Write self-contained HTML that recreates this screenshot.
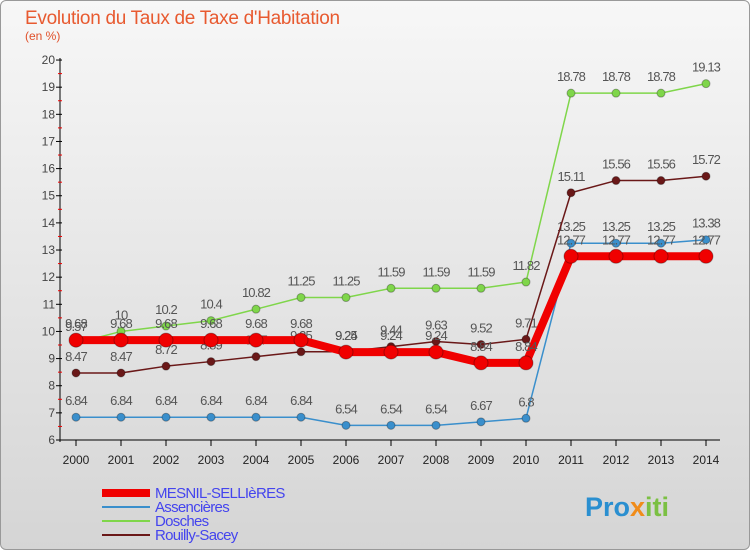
<!DOCTYPE html>
<html><head><meta charset="utf-8"><style>
body{margin:0;width:750px;height:550px;overflow:hidden;font-family:"Liberation Sans",sans-serif}
#bg{position:absolute;left:0;top:0;width:748px;height:548px;border:1px solid #999;border-radius:6px;background:linear-gradient(#f7f7f7,#d5d5d5)}
</style></head><body>
<div id="bg"></div>
<svg id="c" width="750" height="550" style="position:absolute;left:0;top:0">
<text x="25" y="24" font-size="19" fill="#e85a30" font-weight="300" letter-spacing="-0.3">Evolution du Taux de Taxe d'Habitation</text>
<text x="25" y="40" font-size="12" fill="#e0502a">(en %)</text>
<g id="axes"></g><g id="series"></g><g id="legend"></g>
<text x="585" y="516" font-size="27" font-weight="bold" fill="#2a8fd0">Pro<tspan fill="#f08c1a">x</tspan><tspan fill="#7bc043">iti</tspan></text>
</svg>
<script>
const years=[2000,2001,2002,2003,2004,2005,2006,2007,2008,2009,2010,2011,2012,2013,2014];
const mesnil=[9.68,9.68,9.68,9.68,9.68,9.68,9.24,9.24,9.24,8.84,8.84,12.77,12.77,12.77,12.77];
const assencieres=[6.84,6.84,6.84,6.84,6.84,6.84,6.54,6.54,6.54,6.67,6.8,13.25,13.25,13.25,13.38];
const dosches=[9.57,10,10.2,10.4,10.82,11.25,11.25,11.59,11.59,11.59,11.82,18.78,18.78,18.78,19.13];
const rouilly=[8.47,8.47,8.72,8.89,9.07,9.25,9.25,9.44,9.63,9.52,9.71,15.11,15.56,15.56,15.72];
const yTicks=[6,7,8,9,10,11,12,13,14,15,16,17,18,19,20];
const NS="http://www.w3.org/2000/svg";
const X=i=>76+i*45, Y=v=>440-(v-6)*27.14;
function mk(t,a,p){const e=document.createElementNS(NS,t);for(const k in a)e.setAttribute(k,a[k]);p.appendChild(e);return e;}
const ax=document.getElementById('axes');
let l=mk('line',{x1:60,y1:58,x2:60,y2:442,stroke:'#000'},ax);


l=mk('line',{x1:60,y1:440,x2:720,y2:440,stroke:'#000'},ax);


yTicks.forEach(v=>{mk('line',{x1:56,x2:62,y1:Y(v),y2:Y(v),stroke:'#000'},ax);
 if(v<20)mk('line',{x1:58,x2:62,y1:Y(v+0.5),y2:Y(v+0.5),stroke:'#e00'},ax);
 const t=mk('text',{x:55,y:Y(v)+4,'font-size':12,fill:'#444','text-anchor':'end'},ax);t.textContent=v;
 
 });
years.forEach((y,i)=>{mk('line',{x1:X(i),x2:X(i),y1:440,y2:446,stroke:'#000'},ax);
 const t=mk('text',{x:X(i),y:464,'font-size':12,fill:'#222','text-anchor':'middle'},ax);t.textContent=y;
 
 });
const sg=document.getElementById('series');
function draw(vals,color,w,r,name){
 const g=mk('g',{},sg);
 
 
 mk('polyline',{points:vals.map((v,i)=>X(i)+','+Y(v)).join(' '),fill:'none',stroke:color,'stroke-width':w,'stroke-linejoin':'round'},g);
 vals.forEach((v,i)=>{const c=mk('circle',{cx:X(i),cy:Y(v),r:r,fill:color,stroke:'rgba(0,0,0,0.3)'},g);
  
  
  const t=mk('text',{x:X(i),y:Y(v)-12,'font-size':13,fill:'#555','text-anchor':'middle','letter-spacing':'-0.9'},g);t.textContent=v;
  
  });
}
draw(assencieres,'#3a8fcc',1.5,4,'assencieres-series');
draw(dosches,'#7fd64a',1.5,4,'dosches-series');
draw(rouilly,'#6a1818',1.5,4,'rouilly-series');
draw(mesnil,'#f00000',8,7,'mesnil-series');
const lg=document.getElementById('legend');
[['MESNIL-SELLIèRES','#f00000',8],['Assencières','#3a8fcc',2],['Dosches','#7fd64a',2],['Rouilly-Sacey','#6a1818',2]].forEach((d,i)=>{
 const y=493+i*14;
 const g=mk('g',{},lg);
 
 
 mk('line',{x1:102,x2:150,y1:y,y2:y,stroke:d[1],'stroke-width':d[2]},g);
 const t=mk('text',{x:155,y:y+5,'font-size':15,fill:'#4444ee','letter-spacing':'-0.7'},g);t.textContent=d[0];
});
</script>
</body></html>
